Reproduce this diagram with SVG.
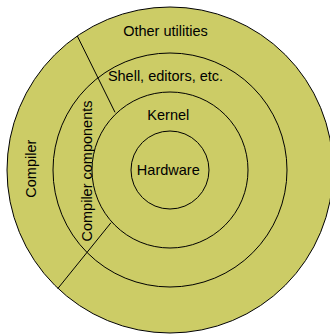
<svg xmlns="http://www.w3.org/2000/svg" width="330" height="335" viewBox="0 0 330 335">
<style>
.ring{fill:#cccc66;stroke:#000;stroke-width:1}
.lbl{font-family:"Liberation Sans",Arial,sans-serif;font-size:14.5px;fill:#000;text-anchor:middle}
.div{stroke:#000;stroke-width:1;fill:none}
</style>
<g id="outer">
<circle class="ring" cx="170" cy="170" r="163"/>
<text class="lbl" x="165.5" y="35.7">Other utilities</text>
<text class="lbl" transform="translate(35.5,168.7) rotate(-90)">Compiler</text>
</g>
<g id="shell">
<circle class="ring" cx="170" cy="170" r="117"/>
<text class="lbl" x="165.5" y="80.7">Shell, editors, etc.</text>
<text class="lbl" transform="translate(91.5,171) rotate(-90)">Compiler components</text>
</g>
<g id="kernel">
<circle class="ring" cx="170" cy="170" r="78"/>
<text class="lbl" x="168.3" y="120">Kernel</text>
</g>
<g id="hardware">
<circle class="ring" cx="170" cy="170" r="39"/>
<text class="lbl" x="168.3" y="175">Hardware</text>
</g>
<g id="dividers">
<line class="div" x1="77.3" y1="36" x2="115" y2="112.3"/>
<line class="div" x1="111" y1="222.7" x2="57.7" y2="288.7"/>
</g>
</svg>
